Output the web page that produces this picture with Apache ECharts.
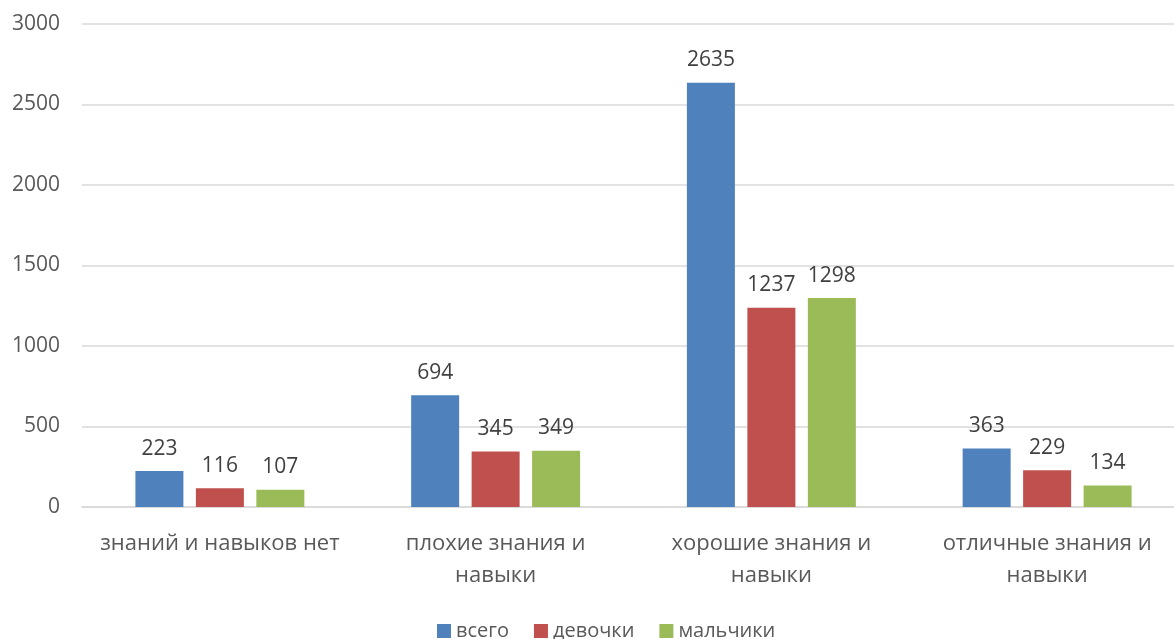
<!DOCTYPE html>
<html>
<head>
<meta charset="utf-8">
<script src="https://cdn.jsdelivr.net/npm/echarts@6/dist/echarts.min.js"></script>
<style>
  html, body { margin: 0; padding: 0; background: #ffffff; }
  #chart { width: 1174px; height: 639px; }
</style>
</head>
<body>
<div id="chart"></div>
<script>
// Knowledge level groups and counts per group
const categories = [
  'знаний и навыков нет',
  'плохие знания и навыки',
  'хорошие знания и навыки',
  'отличные знания и навыки'
];
const seriesNames = ['всего', 'девочки', 'мальчики'];
const totalValues = [223, 694, 2635, 363];
const girlsValues = [116, 345, 1237, 229];
const boysValues = [107, 349, 1298, 134];
const yTicks = [0, 500, 1000, 1500, 2000, 2500, 3000];

const colors = ['#4f81bd', '#c0504d', '#9bbb59'];
const fontFamily = '"Open Sans", "Noto Sans", sans-serif';

const chart = echarts.init(document.getElementById('chart'), null, { renderer: 'canvas' });

function makeSeries(name, data, color) {
  return {
    name: name,
    type: 'bar',
    data: data,
    barWidth: 48,
    barGap: '26%',
    itemStyle: { color: color },
    label: {
      show: true,
      position: 'top',
      distance: 12,
      color: '#404040',
      fontSize: 21,
      fontFamily: fontFamily
    },
    emphasis: { disabled: true }
  };
}

chart.setOption({
  animation: false,
  backgroundColor: '#ffffff',
  color: colors,
  // plot area runs slightly past the right edge of the canvas
  grid: { left: 82, width: 1103, top: 24, bottom: 132, containLabel: false, outerBoundsMode: 'none' },
  legend: {
    data: seriesNames,
    left: 432,
    top: 615,
    icon: 'rect',
    itemWidth: 14,
    itemHeight: 14,
    itemGap: 25,
    textStyle: { color: '#595959', fontSize: 20, fontFamily: fontFamily, lineHeight: 22 }
  },
  xAxis: {
    type: 'category',
    data: categories,
    axisLine: { show: true, lineStyle: { color: '#d9d9d9', width: 1.5 } },
    axisTick: { show: false },
    axisLabel: {
      color: '#595959',
      fontSize: 22,
      fontFamily: fontFamily,
      lineHeight: 32,
      margin: 21,
      interval: 0,
      // long group names wrap before the last word
      formatter: function (value) {
        return value.replace(/ и навыки$/, ' и\nнавыки');
      }
    }
  },
  yAxis: {
    type: 'value',
    min: yTicks[0],
    max: yTicks[yTicks.length - 1],
    interval: 500,
    axisLine: { show: false },
    axisTick: { show: false },
    splitLine: { lineStyle: { color: '#d9d9d9', width: 1.5 } },
    axisLabel: {
      color: '#595959',
      fontSize: 21,
      fontFamily: fontFamily,
      margin: 22,
      formatter: function (v) { return String(v); }
    }
  },
  series: [
    makeSeries(seriesNames[0], totalValues, colors[0]),
    makeSeries(seriesNames[1], girlsValues, colors[1]),
    makeSeries(seriesNames[2], boysValues, colors[2])
  ]
});
</script>
</body>
</html>
